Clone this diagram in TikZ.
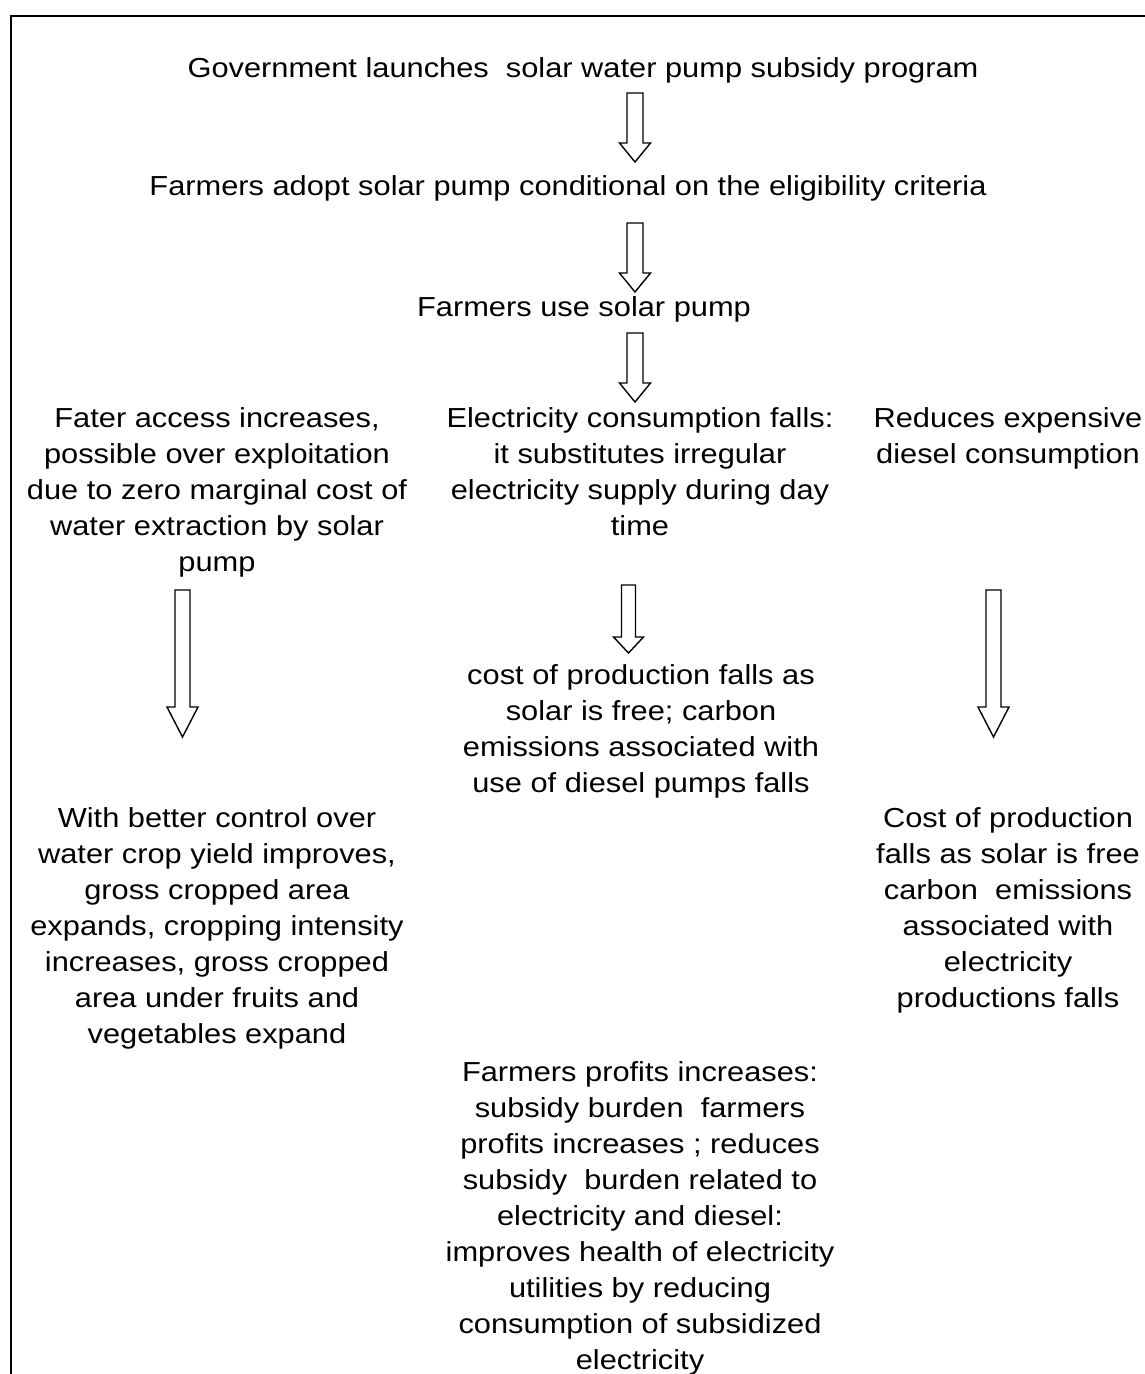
\documentclass[tikz,border=0pt]{standalone}
\usepackage{fontspec}
\setmainfont{Liberation Sans}[FakeStretch=1.12]
\tikzset{
  txt/.style={align=center, inner sep=0pt, anchor=north, font=\fontsize{27.5}{36}\selectfont},
  frameline/.style={line width=2.5pt, line cap=rect},
  arrowline/.style={line width=1.4pt, line join=miter, fill=white, draw=black}
}
% block arrow: centre x, shaft top y, head base y, tip y, shaft half width, head half width
\newcommand{\blockarrow}[6]{%
  \draw[arrowline] ({#1-#5},#2) -- ({#1+#5},#2) -- ({#1+#5},#3) -- ({#1+#6},#3)
    -- (#1,#4) -- ({#1-#6},#3) -- ({#1-#5},#3) -- cycle;}
\begin{document}
\begin{tikzpicture}[x=1pt,y=-1pt]
\useasboundingbox (0,0) rectangle (1144,1374);
% frame
\coordinate (fbl) at (11,1380);
\coordinate (ftl) at (11,16);
\coordinate (ftr) at (1150,16);
\draw[frameline] (fbl) -- (ftl) -- (ftr);

% texts (anchor north = baseline - 25.2)
\node[txt] (gov) at (583,51.8) {\strut Government launches\ \ solar water pump subsidy program\strut};
\node[txt] (adopt) at (568,169.8) {\strut Farmers adopt solar pump conditional on the eligibility criteria\strut};
\node[txt] (use) at (584,290.8) {\strut Farmers use solar pump\strut};

\node[txt] (access) at (217,401.8) {\strut Fater access increases,\\possible over exploitation\\due to zero marginal cost of\\water extraction by solar\\pump\strut};
\node[txt] (elec) at (640,401.8) {\strut Electricity consumption falls:\\it substitutes irregular\\electricity supply during day\\time\strut};
\node[txt] (diesel) at (1008,401.8) {\strut Reduces expensive\\diesel consumption\strut};

\node[txt] (cost) at (641,658.8) {\strut cost of production falls as\\solar is free; carbon\\emissions associated with\\use of diesel pumps falls\strut};

\node[txt] (yield) at (217,801.8) {\strut With better control over\\water crop yield improves,\\gross cropped area\\expands, cropping intensity\\increases, gross cropped\\area under fruits and\\vegetables expand\strut};
\node[txt] (costr) at (1008,801.8) {\strut Cost of production\\falls as solar is free\\carbon\ \ emissions\\associated with\\electricity\\productions falls\strut};

\node[txt] (profit) at (640,1055.8) {\strut Farmers profits increases:\\subsidy burden\ \ farmers\\profits increases ; reduces\\subsidy\ \ burden related to\\electricity and diesel:\\improves health of electricity\\utilities by reducing\\consumption of subsidized\\electricity\strut};

% block arrows
\blockarrow{635}{93}{143}{162}{8}{15.5}
\blockarrow{635}{223}{273}{292}{8}{15.5}
\blockarrow{635}{333}{383}{402}{8}{15.5}
\blockarrow{628.5}{585}{637}{653}{7}{15}
\blockarrow{182.5}{590}{707}{737}{7.5}{15.5}
\blockarrow{993.5}{590}{707}{737}{7.5}{15.5}
\end{tikzpicture}
\end{document}
